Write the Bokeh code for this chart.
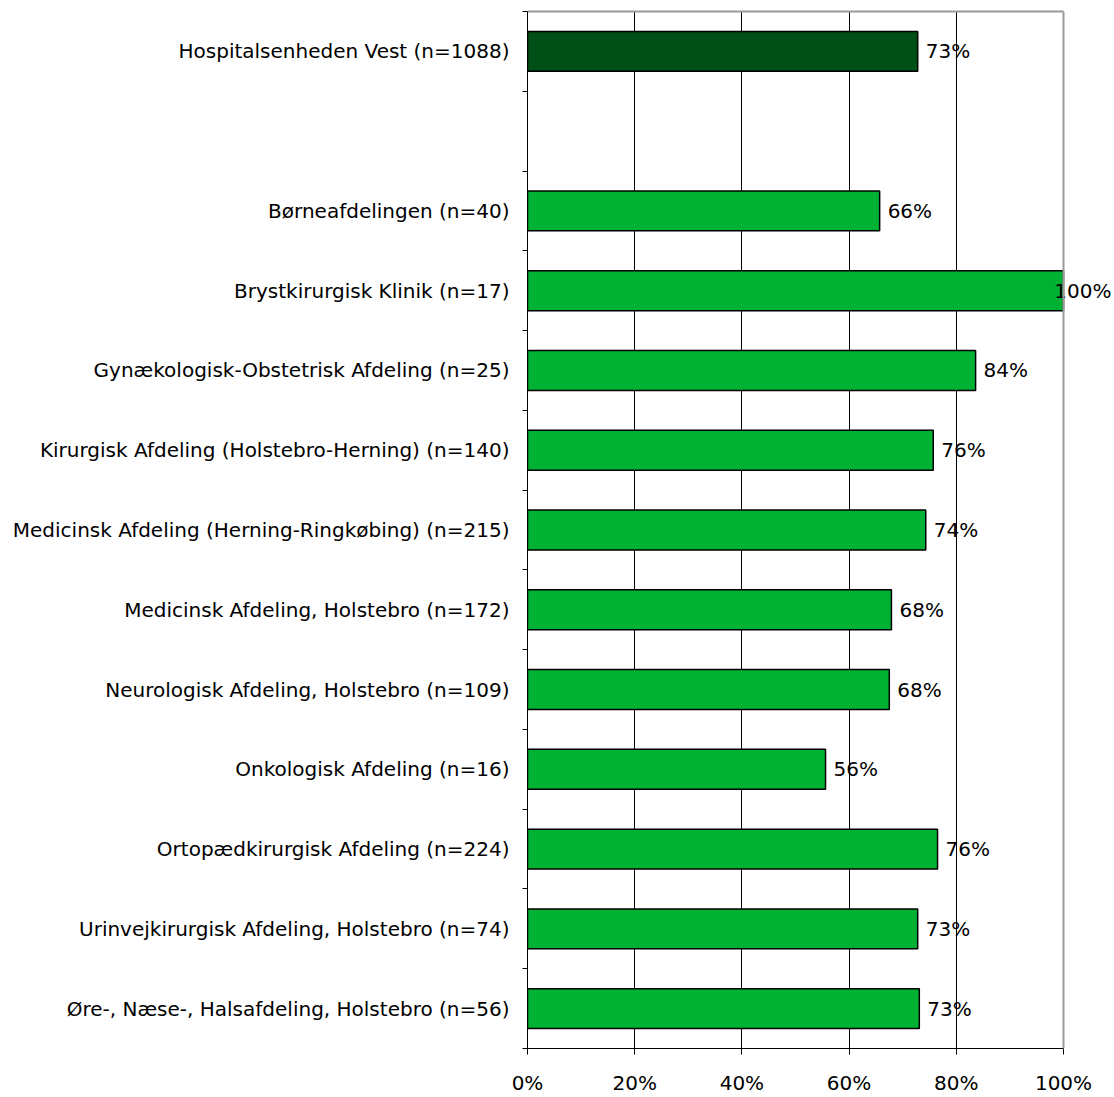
from bokeh.plotting import figure
from bokeh.models import ColumnDataSource, FixedTicker, Range1d, LabelSet, LinearAxis, Span
from bokeh.core.properties import value
from bokeh.embed import file_html
from bokeh.resources import INLINE

categories = [
    "Hospitalsenheden Vest (n=1088)",
    "",
    "Børneafdelingen (n=40)",
    "Brystkirurgisk Klinik (n=17)",
    "Gynækologisk-Obstetrisk Afdeling (n=25)",
    "Kirurgisk Afdeling (Holstebro-Herning) (n=140)",
    "Medicinsk Afdeling (Herning-Ringkøbing) (n=215)",
    "Medicinsk Afdeling, Holstebro (n=172)",
    "Neurologisk Afdeling, Holstebro (n=109)",
    "Onkologisk Afdeling (n=16)",
    "Ortopædkirurgisk Afdeling (n=224)",
    "Urinvejkirurgisk Afdeling, Holstebro (n=74)",
    "Øre-, Næse-, Halsafdeling, Holstebro (n=56)",
]
values = [72.8, None, 65.7, 100.0, 83.6, 75.7, 74.3, 67.9, 67.5, 55.6, 76.5, 72.8, 73.1]
labels = ["73%", "", "66%", "100%", "84%", "76%", "74%", "68%", "68%", "56%", "76%", "73%", "73%"]
x_ticks = [0, 20, 40, 60, 80, 100]
x_tick_labels = ["0%", "20%", "40%", "60%", "80%", "100%"]

DARK = "#004f16"
LIGHT = "#00b233"
FONT = "DejaVu Sans"
FS = "20px"

ys, xs, cols, lx, ly, lt = [], [], [], [], [], []
for i, (c, v, l) in enumerate(zip(categories, values, labels)):
    if v is None:
        continue
    ys.append(i + 0.5)
    xs.append(v)
    cols.append(DARK if i == 0 else LIGHT)
    lx.append(min(v, 96.8))
    ly.append(i + 0.5)
    lt.append(l)

src = ColumnDataSource(dict(y=ys, right=xs, color=cols))
lsrc = ColumnDataSource(dict(x=lx, y=ly, text=lt))

# frame extends past 100% so that value labels are not clipped
X_END = 100 * 587 / 536
p = figure(width=1114, height=1097, output_backend="svg", toolbar_location=None,
           x_range=Range1d(0, X_END), y_range=Range1d(len(categories), 0),
           x_axis_location=None,
           min_border_left=527, min_border_right=0, min_border_top=11, min_border_bottom=46)
p.hbar(y="y", left=0, right="right", height=0.5, fill_color="color",
       line_color="black", line_width=1.5, source=src)

p.add_layout(LabelSet(x="x", y="y", text="text", source=lsrc, x_offset=8,
                      text_align="left", text_baseline="middle",
                      text_font=value(FONT), text_font_size=value(FS), text_color="black"))

# bottom x axis
xb = LinearAxis(ticker=FixedTicker(ticks=x_ticks), bounds=(0, 100))
xb.major_label_overrides = {t: s for t, s in zip(x_ticks, x_tick_labels)}
xb.major_tick_out = 6
xb.major_tick_in = 0
xb.minor_tick_line_color = None
xb.axis_line_color = "black"
xb.major_tick_line_color = "black"
xb.major_label_text_font = FONT
xb.major_label_text_font_size = FS
xb.major_label_text_color = "black"
xb.major_label_standoff = 16
p.add_layout(xb, "below")

# top border as a bare axis line (gray)
xt = LinearAxis(ticker=FixedTicker(ticks=[]), bounds=(0, 100))
xt.axis_line_color = "#999999"
xt.axis_line_width = 2
xt.major_tick_line_color = None
xt.minor_tick_line_color = None
xt.major_label_text_font_size = "0px"
xt.major_label_standoff = 0
xt.major_tick_out = 0
p.add_layout(xt, "above")

# right border at 100%
p.add_layout(Span(location=100, dimension="height", line_color="#999999", line_width=2))

# y axis: labels at centres, ticks at boundaries
centres = [i + 0.5 for i in range(len(categories))]
bounds = list(range(len(categories) + 1))
p.yaxis.ticker = FixedTicker(ticks=centres, minor_ticks=bounds)
p.yaxis.major_label_overrides = {c: n for c, n in zip(centres, categories)}
p.yaxis.major_tick_line_color = None
p.yaxis.minor_tick_line_color = "black"
p.yaxis.minor_tick_out = 5
p.yaxis.minor_tick_in = 0
p.yaxis.axis_line_color = "black"
p.yaxis.major_label_text_font = FONT
p.yaxis.major_label_text_font_size = FS
p.yaxis.major_label_text_color = "black"
p.yaxis.major_label_standoff = 12

p.ygrid.grid_line_color = None
p.xgrid.ticker = FixedTicker(ticks=[20, 40, 60, 80])
p.xgrid.grid_line_color = "black"
p.xgrid.grid_line_alpha = 1.0
p.outline_line_color = None
p.background_fill_color = "white"
p.border_fill_color = "white"

open("out.html", "w").write(file_html(p, INLINE))
